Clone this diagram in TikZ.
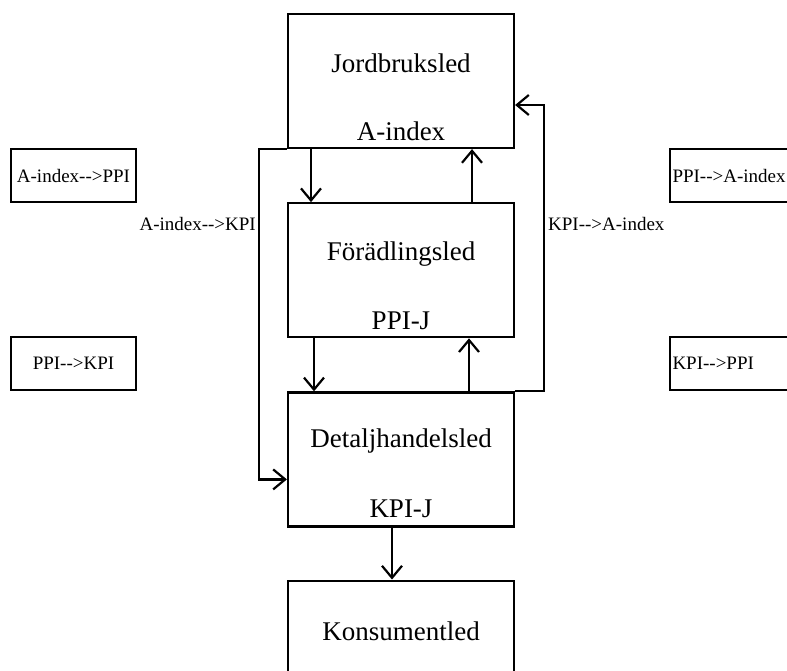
\documentclass[tikz,border=0pt]{standalone}
\usepackage{fontspec}
\setmainfont{Liberation Serif}
\usetikzlibrary{arrows.meta,positioning}

% two hyphens and a greater-than, kept apart
\newcommand{\larr}{-{}-{}>}

\begin{document}
\begin{tikzpicture}[x=1pt,y=-1pt,
    ledbox/.style={draw, line width=2.2pt, minimum width=226pt, minimum height=134pt, inner sep=0pt},
    sidebox/.style={draw, line width=2.2pt, minimum width=125pt, minimum height=53pt, inner sep=0pt},
    ledtext/.style={font=\fontsize{27}{32}\selectfont},
    smalltext/.style={font=\fontsize{19}{22}\selectfont},
    flow/.style={line width=2.2pt, -{Straight Barb[length=12pt,width=20pt]}}]
    \useasboundingbox (0,0) rectangle (787,670);

    % Main chain of boxes
    \node[ledbox] (jord) at (401,81) {};
    \node[ledbox, below=53pt of jord] (foer) {};
    \node[ledbox, below=53pt of foer] (deta) {};
    \node[ledbox, below=52pt of deta] (kons) {};

    % Names and indices inside the boxes
    \node[ledtext] (jordname) at ([yshift=-50pt]jord.north) {Jordbruksled};
    \node[ledtext] (jordidx) at ([yshift=18pt]jord.south) {A-index};
    \node[ledtext] (foername) at ([yshift=-52pt]foer.north) {Förädlingsled};
    \node[ledtext] (foeridx) at ([yshift=18pt]foer.south) {PPI-J};
    \node[ledtext] (detaname) at ([yshift=-50pt]deta.north) {Detaljhandelsled};
    \node[ledtext] (detaidx) at ([yshift=19pt]deta.south) {KPI-J};
    \node[ledtext] (konsname) at ([yshift=-52pt]kons.north) {Konsumentled};

    % Arrows between neighbouring boxes
    \draw[flow] ([xshift=-90pt]jord.south) -- ([xshift=-90pt]foer.north);
    \draw[flow] ([xshift=71pt]foer.north) -- ([xshift=71pt]jord.south);
    \draw[flow] ([xshift=-87pt]foer.south) -- ([xshift=-87pt]deta.north);
    \draw[flow] ([xshift=68pt]deta.north) -- ([xshift=68pt]foer.south);
    \draw[flow] ([xshift=-9pt]deta.south) -- ([xshift=-9pt]kons.north);

    % Loops past the middle box
    \draw[flow] (jord.south west) -- ++(-28,0) |- ([yshift=-20pt]deta.west);
    \draw[flow] (deta.north east) -- ++(29,0) |- ([yshift=-24pt]jord.east);
    \node[smalltext, anchor=east, inner sep=2pt] (akpi) at (258,224) {A-index\larr KPI};
    \node[smalltext, anchor=west, inner sep=2pt] (kpia) at (546,224) {KPI\larr A-index};

    % Side boxes
    \node[sidebox, smalltext] (appi) at (73.5,175.5) {A-index\larr PPI};
    \node[sidebox, smalltext] (ppik) at (73.5,363.5) {PPI\larr KPI};
    \node[sidebox, smalltext, text width=120pt, align=left] (ppia) at (732.5,175.5) {PPI\larr A-index};
    \node[sidebox, smalltext, text width=120pt, align=left] (kpip) at (732.5,363.5) {KPI\larr PPI};
\end{tikzpicture}
\end{document}
